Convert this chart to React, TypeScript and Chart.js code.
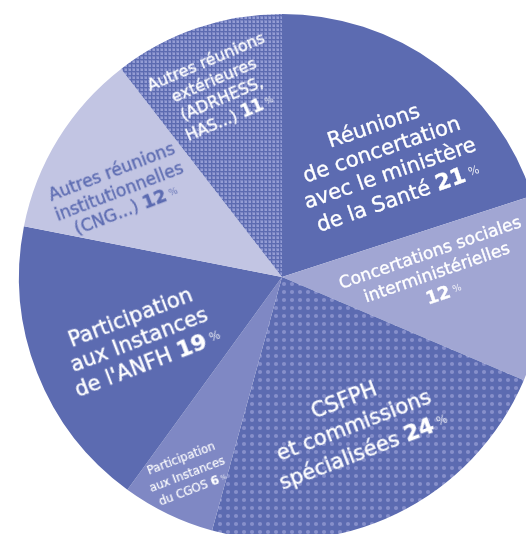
import React, { useEffect, useRef, useState } from "react";
import { Chart, registerables } from "chart.js";

Chart.register(...registerables);

// ---- Data ----
const categories = [
  "Réunions de concertation avec le ministère de la Santé",
  "Concertations sociales interministérielles",
  "CSFPH et commissions spécialisées",
  "Participation aux Instances du CGOS",
  "Participation aux Instances de l'ANFH",
  "Autres réunions institutionnelles (CNG...)",
  "Autres réunions extérieures (ADRHESS, HAS...)",
];
const shares = [21, 12, 24, 6, 19, 12, 11];
const labelLines = [
  ["Réunions", "de concertation", "avec le ministère", "de la Santé"],
  ["Concertations sociales", "interministérielles", ""],
  ["CSFPH", "et commissions", "spécialisées"],
  ["Participation", "aux Instances", "du CGOS"],
  ["Participation", "aux Instances", "de l'ANFH"],
  ["Autres réunions", "institutionnelles", "(CNG...)"],
  ["Autres réunions", "extérieures", "(ADRHESS,", "HAS...)"],
];

// ---- Styles ----
const BASE = "#5c6bb1";
const FONT = "'DejaVu Sans', 'Noto Sans', sans-serif";
type Fill = { color: string; pattern?: "grid" | "dots" };
const fills: Fill[] = [
  { color: BASE },
  { color: "#a1a6d3" },
  { color: BASE, pattern: "dots" },
  { color: "#7f88c4" },
  { color: BASE },
  { color: "#c2c5e3" },
  { color: BASE, pattern: "grid" },
];
const labelStyles = [
  { size: 21, lh: 25, color: "#ffffff", rot: -19, shift: 6, frac: 0.59 },
  { size: 17, lh: 21, color: "#ffffff", rot: -19, shift: -4, frac: 0.59 },
  { size: 21, lh: 27, color: "#ffffff", rot: -21, shift: 0, frac: 0.63 },
  { size: 11.5, lh: 16.5, color: "#ffffff", rot: -21, shift: 0, frac: 0.833 },
  { size: 21, lh: 24, color: "#ffffff", rot: -21, shift: -2.4, frac: 0.594 },
  { size: 17, lh: 20.5, color: BASE, rot: -21, shift: -3.7, frac: 0.7 },
  { size: 16, lh: 20, color: "#ffffff", rot: -23, shift: 0, frac: 0.75 },
];

function makePattern(kind: "grid" | "dots"): CanvasPattern | string {
  const c = document.createElement("canvas");
  const size = kind === "grid" ? 4 : 8;
  c.width = size;
  c.height = size;
  const g = c.getContext("2d");
  if (!g) return BASE;
  g.fillStyle = BASE;
  g.fillRect(0, 0, size, size);
  if (kind === "grid") {
    g.fillStyle = "#7a85c4";
    g.fillRect(0, 0, 3, 3);
    g.fillStyle = "#949dd4";
    g.fillRect(1, 1, 2, 2);
  } else {
    g.fillStyle = "#8790cb";
    g.beginPath();
    g.arc(4, 4, 2.1, 0, Math.PI * 2);
    g.fill();
  }
  const p = g.createPattern(c, "repeat");
  return p || BASE;
}

type Pos = { x: number; y: number };

export default function App() {
  const ref = useRef<HTMLCanvasElement | null>(null);
  const [pos, setPos] = useState<Pos[]>([]);
  useEffect(() => {
    if (!ref.current) return;
    const bg = fills.map((f) => (f.pattern ? makePattern(f.pattern) : f.color));
    const chart = new Chart(ref.current, {
      type: "pie",
      data: {
        labels: categories,
        datasets: [
          {
            data: shares,
            backgroundColor: bg as any,
            borderWidth: 0,
          },
        ],
      },
      options: {
        responsive: false,
        animation: false,
        devicePixelRatio: 1,
        radius: 263,
        layout: { padding: { left: 19, right: 19, top: 14, bottom: 14 } },
        plugins: {
          legend: { display: false },
          tooltip: { enabled: false },
        },
      } as any,
    });
    const meta = chart.getDatasetMeta(0);
    const p = meta.data.map((arc: any, i: number) => {
      const { x, y, startAngle, endAngle, outerRadius } = arc.getProps(
        ["x", "y", "startAngle", "endAngle", "outerRadius"],
        true
      );
      const st = labelStyles[i];
      const mid = (startAngle + endAngle) / 2 + (st.shift * Math.PI) / 180;
      const r = outerRadius * st.frac;
      return { x: x + Math.cos(mid) * r, y: y + Math.sin(mid) * r };
    });
    setPos(p);
    return () => chart.destroy();
  }, []);
  return (
    <div
      style={{
        position: "fixed",
        left: 0,
        top: 0,
        width: 526,
        height: 534,
        overflow: "hidden",
        background: "#ffffff",
      }}
    >
      <canvas
        ref={ref}
        width={564}
        height={554}
        style={{ width: 564, height: 554, display: "block", position: "absolute", left: 0, top: 0 }}
      />
      {pos.map((p, i) => {
        const st = labelStyles[i];
        const lines = labelLines[i];
        const n = lines.length;
        return (
          <div
            key={i}
            style={{
              position: "absolute",
              left: p.x,
              top: p.y,
              transform: `translate(-50%, -50%) rotate(${st.rot}deg)`,
              color: st.color,
              fontFamily: FONT,
              fontSize: st.size,
              lineHeight: `${st.lh}px`,
              textAlign: "center",
              whiteSpace: "nowrap",
              WebkitTextStroke: `${st.size > 12 ? 0.35 : 0.15}px ${st.color}`,
            }}
          >
            {lines.map((l, j) => (
              <div key={j}>
                {l}
                {j === n - 1 && (
                  <>
                    {l ? " " : ""}
                    <span style={{ fontWeight: "bold", fontSize: "1.05em" }}>{shares[i]}</span>
                    <span
                      style={{
                        fontSize: "0.55em",
                        opacity: 0.85,
                        marginLeft: "0.35em",
                        verticalAlign: "0.35em",
                        WebkitTextStroke: "0px",
                      }}
                    >
                      %
                    </span>
                  </>
                )}
              </div>
            ))}
          </div>
        );
      })}
    </div>
  );
}
